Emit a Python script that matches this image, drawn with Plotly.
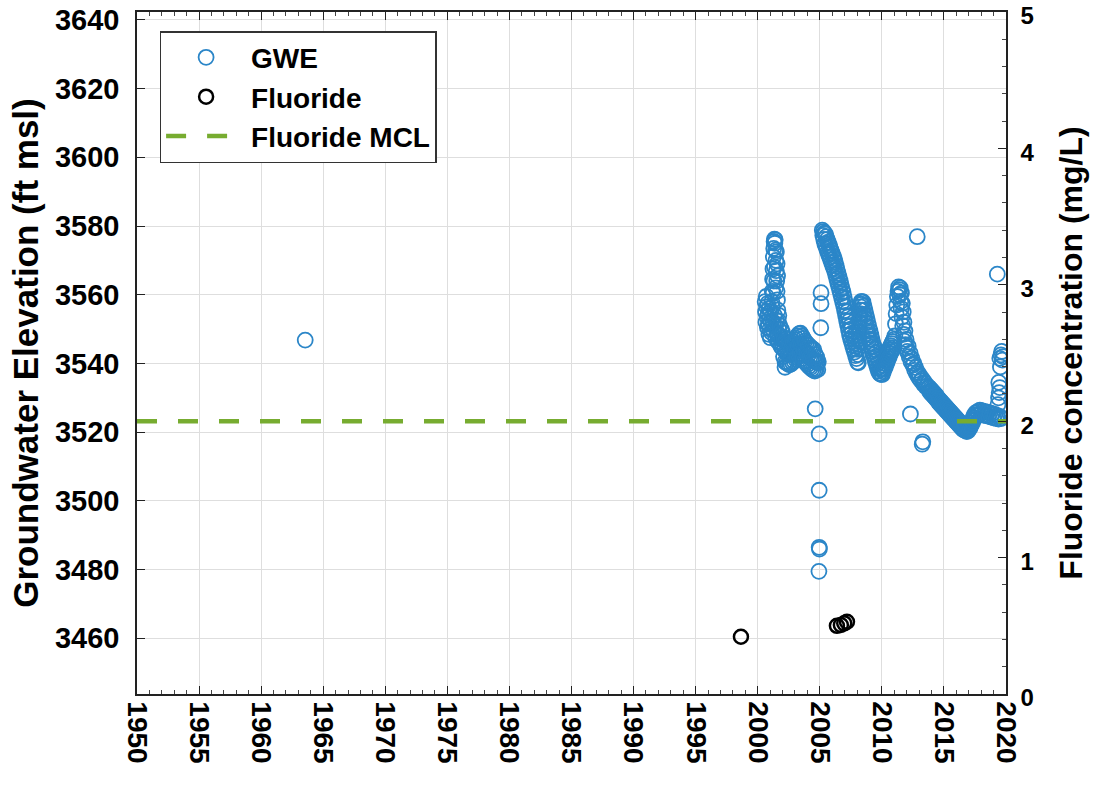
import plotly.graph_objects as go

# ---------------- data ----------------
# Groundwater elevation (ft msl) -- isolated early reading
gwe_early_yr = [1963.55]
gwe_early_ft = [3546.8]

# 2000.6 - 2002 : first cluster and tall column
gwe_a1_yr = [2000.60, 2000.63, 2000.66, 2000.69, 2000.72, 2000.75, 2000.78, 2000.81, 2000.84, 2000.87,
             2000.90, 2000.93, 2000.96, 2000.99, 2001.02, 2001.05, 2001.08, 2001.11, 2001.14, 2001.17,
             2001.20, 2001.23, 2001.26, 2001.29, 2001.32, 2001.35, 2001.38, 2001.41, 2001.44, 2001.47,
             2001.50, 2001.53, 2001.56, 2001.59, 2001.62, 2001.65, 2001.68, 2001.44, 2001.50, 2001.56,
             2001.60, 2001.35, 2001.30, 2001.25, 2001.20, 2001.25, 2001.30, 2001.35, 2001.40, 2001.45,
             2001.50, 2001.55, 2001.60, 2001.65, 2001.70, 2001.74, 2001.78, 2001.82, 2001.86, 2001.90,
             2001.94, 2001.98]
gwe_a1_ft = [3558.0, 3555.0, 3552.0, 3559.5, 3556.5, 3553.5, 3550.5, 3557.5, 3554.5, 3551.5,
             3548.5, 3556.0, 3553.0, 3550.0, 3547.5, 3555.0, 3552.0, 3549.0, 3558.0, 3561.0,
             3564.5, 3567.5, 3571.0, 3573.5, 3575.5, 3576.2, 3575.0, 3576.0, 3573.0, 3570.0,
             3567.0, 3564.0, 3561.0, 3558.5, 3555.5, 3552.5, 3550.0, 3562.0, 3572.5, 3569.0,
             3565.5, 3568.0, 3564.0, 3560.5, 3556.5, 3552.0, 3549.5, 3554.0, 3551.0, 3547.5,
             3552.5, 3549.0, 3546.5, 3548.0, 3554.0, 3546.0, 3551.0, 3548.0, 3545.0, 3550.0,
             3547.0, 3544.5]

# 2002 - 2004.9 : low blob with a bump in 2003
gwe_a2_yr = [2002.00, 2002.04, 2002.08, 2002.12, 2002.16, 2002.20, 2002.24, 2002.28, 2002.32, 2002.36,
             2002.40, 2002.44, 2002.48, 2002.52, 2002.56, 2002.60, 2002.64, 2002.68, 2002.72, 2002.76,
             2002.80, 2002.84, 2002.88, 2002.92, 2002.96, 2003.00, 2003.04, 2003.08, 2003.12, 2003.16,
             2003.20, 2003.24, 2003.28, 2003.32, 2003.36, 2003.40, 2003.44, 2003.48, 2003.52, 2003.56,
             2003.60, 2003.64, 2003.68, 2003.72, 2003.76, 2003.80, 2003.84, 2003.88, 2003.92, 2003.96,
             2004.00, 2004.04, 2004.08, 2004.12, 2004.16, 2004.20, 2004.24, 2004.28, 2004.32, 2004.36,
             2004.40, 2004.44, 2004.48, 2004.52, 2004.56, 2004.60, 2004.64, 2004.68, 2004.72, 2004.76,
             2004.80, 2004.84, 2004.88, 2002.20]
gwe_a2_ft = [3549.0, 3545.5, 3542.0, 3547.5, 3544.0, 3540.5, 3546.4, 3543.3, 3540.2, 3546.1,
             3543.0, 3539.9, 3545.8, 3542.7, 3539.6, 3545.5, 3542.7, 3539.8, 3546.0, 3543.1,
             3540.3, 3546.4, 3543.6, 3540.7, 3546.9, 3544.0, 3541.2, 3547.4, 3544.6, 3541.8,
             3548.0, 3545.2, 3542.4, 3548.6, 3545.8, 3543.0, 3548.8, 3545.5, 3542.3, 3548.0,
             3544.8, 3541.5, 3547.3, 3544.0, 3540.8, 3546.5, 3543.4, 3540.2, 3546.0, 3542.9,
             3539.7, 3545.5, 3542.4, 3539.2, 3545.1, 3541.9, 3538.8, 3544.6, 3541.5, 3538.4,
             3544.3, 3541.2, 3538.1, 3544.0, 3540.9, 3537.8, 3542.6, 3540.5, 3538.4, 3541.8,
             3540.2, 3538.2, 3540.5, 3538.9]

# scattered readings around 2005
gwe_out05_yr = [2004.63, 2004.95, 2004.95, 2004.95, 2004.97, 2004.93, 2005.10, 2005.10, 2005.08]
gwe_out05_ft = [3526.8, 3519.5, 3503.1, 3486.5, 3486.0, 3479.5, 3560.6, 3557.4, 3550.4]

# 2005.2 - 2008.1 decline
gwe_b1_yr = [2005.20, 2005.24, 2005.28, 2005.32, 2005.36, 2005.40, 2005.44, 2005.48, 2005.52, 2005.56,
             2005.60, 2005.64, 2005.68, 2005.72, 2005.76, 2005.80, 2005.84, 2005.88, 2005.92, 2005.96,
             2006.00, 2006.04, 2006.08, 2006.12, 2006.16, 2006.20, 2006.24, 2006.28, 2006.32, 2006.36,
             2006.40, 2006.44, 2006.48, 2006.52, 2006.56, 2006.60, 2006.64, 2006.68, 2006.72, 2006.76,
             2006.80, 2006.84, 2006.88, 2006.92, 2006.96, 2007.00, 2007.04, 2007.08, 2007.12, 2007.16,
             2007.20, 2007.24, 2007.28, 2007.32, 2007.36, 2007.40, 2007.44, 2007.48, 2007.52, 2007.56,
             2007.60, 2007.64, 2007.68, 2007.72, 2007.76, 2007.80, 2007.84, 2007.88, 2007.92, 2007.96,
             2008.00, 2008.04, 2008.08, 2008.10]
gwe_b1_ft = [3578.8, 3577.3, 3578.4, 3576.1, 3577.9, 3574.9, 3577.7, 3574.1, 3576.9, 3573.3,
             3576.1, 3572.5, 3575.3, 3571.7, 3574.5, 3570.9, 3573.7, 3570.1, 3572.9, 3569.3,
             3572.1, 3568.5, 3571.3, 3567.7, 3570.5, 3566.9, 3569.6, 3565.8, 3568.4, 3564.7,
             3567.3, 3563.6, 3566.2, 3562.5, 3565.1, 3561.4, 3564.0, 3560.3, 3562.9, 3559.1,
             3561.8, 3558.0, 3560.7, 3556.8, 3559.3, 3555.4, 3557.9, 3554.0, 3556.5, 3552.5,
             3555.0, 3551.1, 3553.6, 3549.7, 3552.3, 3548.3, 3550.8, 3547.2, 3549.9, 3546.2,
             3548.8, 3545.2, 3547.9, 3544.2, 3547.0, 3543.3, 3546.0, 3542.3, 3545.0, 3541.4,
             3544.1, 3540.4, 3542.6, 3540.2]

# 2008.1 recovery and 2008.4 - 2010 decline
gwe_b2_yr = [2008.12, 2008.14, 2008.16, 2008.18, 2008.20, 2008.22, 2008.24, 2008.26, 2008.28, 2008.30,
             2008.32, 2008.36, 2008.40, 2008.44, 2008.48, 2008.52, 2008.56, 2008.60, 2008.64, 2008.68,
             2008.72, 2008.76, 2008.80, 2008.84, 2008.88, 2008.92, 2008.96, 2009.00, 2009.04, 2009.08,
             2009.12, 2009.16, 2009.20, 2009.24, 2009.28, 2009.32, 2009.36, 2009.40, 2009.44, 2009.48,
             2009.52, 2009.56, 2009.60, 2009.64, 2009.68, 2009.72, 2009.76, 2009.80, 2009.84, 2009.88,
             2009.92, 2009.96]
gwe_b2_ft = [3545.5, 3547.2, 3549.0, 3550.5, 3552.0, 3553.3, 3554.5, 3555.5, 3556.5, 3557.3,
             3558.0, 3557.2, 3558.0, 3555.5, 3557.9, 3554.3, 3556.7, 3553.1, 3555.5, 3551.9,
             3554.3, 3550.7, 3553.1, 3549.5, 3551.9, 3548.3, 3550.7, 3547.1, 3549.5, 3545.9,
             3548.3, 3544.7, 3547.1, 3543.5, 3545.9, 3542.5, 3545.0, 3541.5, 3544.1, 3540.6,
             3543.1, 3539.7, 3542.2, 3538.7, 3541.3, 3537.8, 3540.3, 3537.2, 3539.1, 3536.9,
             3538.2, 3536.8]

# 2010 - 2013.8 : rise, hollow column in 2011 and slow decline
gwe_c_yr = [2010.00, 2010.04, 2010.08, 2010.12, 2010.16, 2010.20, 2010.24, 2010.28, 2010.32, 2010.36,
            2010.40, 2010.44, 2010.48, 2010.52, 2010.56, 2010.60, 2010.64, 2010.68, 2010.72, 2010.76,
            2010.80, 2010.84, 2010.88, 2010.92, 2010.96,
            2011.05, 2011.10, 2011.15, 2011.20, 2011.25, 2011.30, 2011.35, 2011.40, 2011.45, 2011.48,
            2011.52, 2011.55, 2011.58, 2011.62, 2011.65, 2011.68, 2011.72, 2011.75, 2011.78, 2011.82,
            2011.86, 2011.90, 2011.95, 2012.00, 2012.05, 2012.12, 2012.20, 2012.28, 2012.35, 2012.42,
            2012.50, 2012.58, 2012.65, 2012.72, 2012.80, 2012.88, 2012.95, 2013.05, 2013.15, 2013.25,
            2013.35, 2013.45, 2013.55, 2013.65, 2013.75]
gwe_c_ft = [3538.5, 3536.8, 3539.5, 3537.6, 3540.2, 3538.4, 3541.0, 3539.0, 3542.0, 3539.8,
            3542.6, 3540.6, 3543.2, 3541.4, 3544.0, 3542.0, 3544.6, 3542.8, 3545.2, 3543.4,
            3545.8, 3544.0, 3546.4, 3544.6, 3547.0,
            3548.0, 3551.5, 3554.5, 3557.0, 3559.5, 3561.0, 3562.3, 3561.5, 3560.0, 3562.0,
            3558.0, 3556.0, 3560.5, 3553.5, 3557.5, 3551.0, 3555.0, 3548.5, 3552.0, 3546.5,
            3549.5, 3545.5, 3547.0, 3544.5, 3543.5, 3545.0, 3542.0, 3543.0, 3540.5, 3541.5,
            3539.5, 3540.0, 3538.0, 3538.8, 3537.0, 3537.5, 3536.0, 3536.5, 3535.0, 3535.5,
            3534.0, 3534.5, 3533.2, 3533.5, 3532.8]

# 2013.8 - 2017 decline
gwe_d_yr = [2013.80, 2013.85, 2013.90, 2013.95, 2014.00, 2014.05, 2014.10, 2014.15, 2014.20, 2014.25,
            2014.30, 2014.35, 2014.40, 2014.45, 2014.50, 2014.55, 2014.60, 2014.65, 2014.70, 2014.75,
            2014.80, 2014.85, 2014.90, 2014.95, 2015.00, 2015.05, 2015.10, 2015.15, 2015.20, 2015.25,
            2015.30, 2015.35, 2015.40, 2015.45, 2015.50, 2015.55, 2015.60, 2015.65, 2015.70, 2015.75,
            2015.80, 2015.85, 2015.90, 2015.95, 2016.00, 2016.05, 2016.10, 2016.15, 2016.20, 2016.25,
            2016.30, 2016.35, 2016.40, 2016.45, 2016.50, 2016.55, 2016.60, 2016.65, 2016.70, 2016.75,
            2016.80, 2016.85, 2016.90, 2016.95]
gwe_d_ft = [3533.0, 3531.8, 3532.6, 3531.4, 3532.2, 3531.0, 3531.8, 3530.6, 3531.4, 3530.2,
            3531.0, 3529.8, 3530.6, 3529.4, 3530.0, 3528.8, 3529.6, 3528.4, 3529.2, 3528.0,
            3528.8, 3527.6, 3528.4, 3527.2, 3528.0, 3526.8, 3527.6, 3526.4, 3527.2, 3526.0,
            3526.8, 3525.6, 3526.4, 3525.2, 3526.0, 3524.8, 3525.6, 3524.4, 3525.2, 3524.0,
            3524.8, 3523.6, 3524.4, 3523.2, 3524.0, 3522.8, 3523.6, 3522.4, 3523.2, 3522.0,
            3522.8, 3521.6, 3522.4, 3521.2, 3522.0, 3520.8, 3521.6, 3520.6, 3521.4, 3520.4,
            3521.2, 3520.2, 3521.0, 3520.4]

# 2017 - 2020
gwe_e_yr = [2017.00, 2017.05, 2017.10, 2017.15, 2017.20, 2017.25, 2017.30, 2017.35, 2017.40, 2017.45,
            2017.50, 2017.55, 2017.60, 2017.70, 2017.80, 2017.90, 2018.00, 2018.10, 2018.20, 2018.30,
            2018.40, 2018.50, 2018.60, 2018.70, 2018.80, 2018.90, 2019.00, 2019.10, 2019.20, 2019.30,
            2019.40, 2019.50, 2019.60, 2019.35, 2019.40, 2019.45, 2019.50, 2019.42, 2019.55, 2019.50,
            2019.60, 2019.65, 2019.70, 2019.75, 2019.30]
gwe_e_ft = [3521.0, 3521.8, 3521.2, 3522.6, 3522.0, 3523.4, 3522.8, 3524.2, 3523.6, 3525.0,
            3524.2, 3525.6, 3524.8, 3526.0, 3525.2, 3526.4, 3525.4, 3526.2, 3525.0, 3526.0,
            3524.8, 3525.8, 3524.6, 3525.6, 3524.4, 3525.4, 3524.2, 3525.2, 3524.0, 3524.8,
            3523.8, 3524.6, 3524.0, 3528.0, 3530.0, 3531.5, 3533.0, 3534.5, 3539.0, 3541.5,
            3542.5, 3543.5, 3541.0, 3542.0, 3566.0]

# scattered readings 2012 - 2013
gwe_out12_yr = [2012.30, 2013.25, 2013.30, 2012.85]
gwe_out12_ft = [3525.3, 3516.5, 3517.2, 3576.9]

# Fluoride concentration (mg/L)
fluoride_yr = [1998.65, 2006.38, 2006.70, 2006.97, 2007.19]
fluoride_mgl = [0.42, 0.50, 0.506, 0.518, 0.53]

# Fluoride MCL (mg/L)
mcl_mgl = 2.0

x_range = [1950, 2020]
x_ticks = list(range(1950, 2021, 5))
y_left_ticks = list(range(3460, 3641, 20))
y_right_ticks = [0, 1, 2, 3, 4, 5]

# ---------------- assemble ----------------
gwe_year = (gwe_early_yr + gwe_a1_yr + gwe_a2_yr + gwe_out05_yr + gwe_b1_yr + gwe_b2_yr
            + gwe_c_yr + gwe_d_yr + gwe_e_yr + gwe_out12_yr)
gwe_ft = (gwe_early_ft + gwe_a1_ft + gwe_a2_ft + gwe_out05_ft + gwe_b1_ft + gwe_b2_ft
          + gwe_c_ft + gwe_d_ft + gwe_e_ft + gwe_out12_ft)

FONT = "Liberation Sans"
BLUE = "#2b86c8"
GREEN = "#77AC30"
AX = "#222222"

fig = go.Figure()
fig.add_trace(go.Scatter(
    x=gwe_year, y=gwe_ft, mode="markers", name="GWE", yaxis="y",
    marker=dict(symbol="circle-open", size=15, color=BLUE, line=dict(width=1.8)),
))
fig.add_trace(go.Scatter(
    x=fluoride_yr, y=fluoride_mgl, mode="markers", name="Fluoride", yaxis="y2",
    marker=dict(symbol="circle-open", size=14, color="black", line=dict(width=2.5)),
))
fig.add_trace(go.Scatter(
    x=x_range, y=[mcl_mgl, mcl_mgl], mode="lines", name="Fluoride MCL", yaxis="y2",
    line=dict(color=GREEN, width=4.5, dash="20px,21px"),
))

bold = dict(family=FONT, color="black", weight="bold")

fig.update_layout(
    width=1095, height=786,
    margin=dict(l=137, r=89, t=12, b=92, autoexpand=False),
    paper_bgcolor="white", plot_bgcolor="white",
    font=dict(family=FONT, color="black"),
    showlegend=True,
    legend=dict(
        x=0.026, y=0.972, xanchor="left", yanchor="top",
        bgcolor="white", bordercolor="#333333", borderwidth=1.5,
        font=dict(size=28, **bold), itemwidth=80, tracegroupgap=0,
    ),
    xaxis=dict(
        range=x_range, tickmode="array", tickvals=x_ticks, ticktext=[str(t) for t in x_ticks],
        tickangle=90, tickfont=dict(size=28, **bold), automargin=False,
        showgrid=True, gridcolor="#dedede", gridwidth=1, zeroline=False,
        showline=True, linecolor=AX, linewidth=1.5, mirror="ticks",
        ticks="inside", ticklen=8, tickcolor=AX, tickwidth=1,
        minor=dict(dtick=1, ticks="inside", ticklen=4, tickcolor="#444444", showgrid=False),
    ),
    yaxis=dict(
        range=[3443.8, 3642.3], tickmode="array", tickvals=y_left_ticks,
        ticktext=[str(t) for t in y_left_ticks], tickfont=dict(size=29, **bold),
        automargin=False, ticklabeloverflow="allow",
        showgrid=True, gridcolor="#dedede", gridwidth=1, zeroline=False,
        showline=True, linecolor=AX, linewidth=1.5, mirror=False,
        ticks="inside", ticklen=8, tickcolor=AX, ticklabelstandoff=10,
        title=dict(text="Groundwater Elevation (ft msl)", font=dict(size=35, **bold), standoff=6),
    ),
    yaxis2=dict(
        range=[0, 5], overlaying="y", side="right", anchor="x", automargin=False,
        ticklabeloverflow="allow", ticklabelshift=4,
        tickmode="array", tickvals=y_right_ticks, ticktext=[str(t) for t in y_right_ticks],
        tickfont=dict(size=24, **bold),
        showgrid=False, zeroline=False,
        showline=True, linecolor=AX, linewidth=1.5,
        ticks="inside", ticklen=8, tickcolor=AX, ticklabelstandoff=8,
        minor=dict(dtick=0.2, ticks="inside", ticklen=4, tickcolor="#444444", showgrid=False),
        title=dict(text="Fluoride concentration (mg/L)", font=dict(size=32, **bold), standoff=26),
    ),
)

# drop the page's default 8px body margin so the 1095x786 figure fills the window exactly
fig.write_html("out.html", config={"displayModeBar": False},
               post_script="document.body.style.margin='0px';")
